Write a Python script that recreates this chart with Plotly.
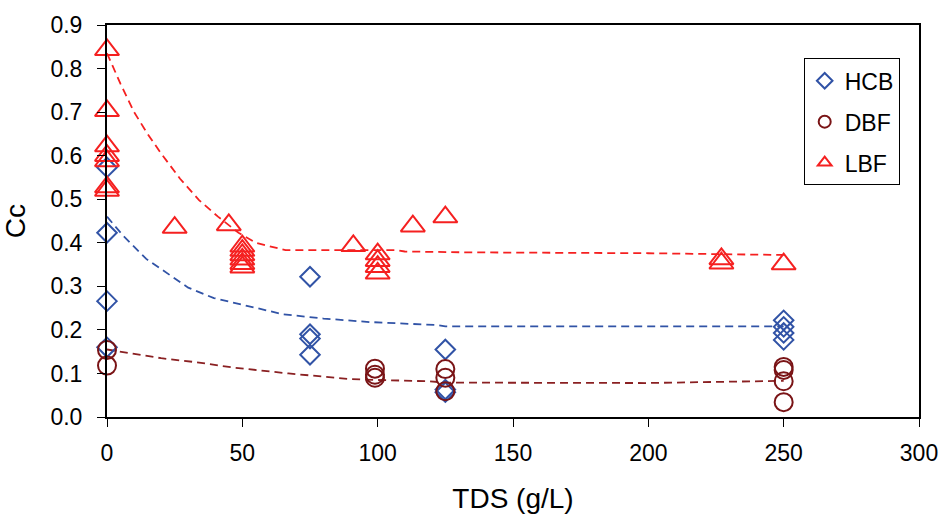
import plotly.graph_objects as go

# ---- data ----
hcb_x = [0, 0, 0, 0, 75, 75, 75, 75, 125, 125, 125, 250, 250, 250, 250]
hcb_y = [0.573, 0.423, 0.266, 0.160, 0.322, 0.190, 0.180, 0.143, 0.155, 0.063, 0.057, 0.222, 0.207, 0.193, 0.177]

dbf_x = [0, 0, 99, 99, 99, 125, 125, 125, 250, 250, 250, 250]
dbf_y = [0.154, 0.118, 0.111, 0.097, 0.090, 0.110, 0.090, 0.059, 0.115, 0.108, 0.082, 0.034]

lbf_x = [0, 0, 0, 0, 0, 0, 0, 25, 45, 50, 50, 50, 50, 50, 50, 91, 100, 100, 100, 100, 113, 125, 227, 227, 250]
lbf_y = [0.843, 0.703, 0.622, 0.600, 0.588, 0.528, 0.520, 0.435, 0.441, 0.392, 0.382, 0.372, 0.362, 0.352, 0.344,
         0.393, 0.374, 0.359, 0.345, 0.330, 0.438, 0.459, 0.363, 0.353, 0.351]

# trend (dashed) lines
hcb_fit_x = [0, 6, 14.5, 22.4, 30, 39.5, 50, 65, 80, 97, 122, 125, 250]
hcb_fit_y = [0.460, 0.416, 0.363, 0.329, 0.297, 0.273, 0.258, 0.236, 0.226, 0.218, 0.211, 0.208, 0.208]

dbf_fit_x = [0, 20, 34, 46, 67, 80, 90, 100, 119, 125, 199, 250]
dbf_fit_y = [0.155, 0.135, 0.125, 0.114, 0.100, 0.092, 0.087, 0.085, 0.082, 0.079, 0.078, 0.083]

lbf_fit_x = [0, 5, 10, 15, 20, 27, 34, 41, 48.6, 55, 60, 66, 107, 110, 133, 200, 250]
lbf_fit_y = [0.835, 0.765, 0.700, 0.650, 0.605, 0.547, 0.498, 0.460, 0.423, 0.400, 0.392, 0.383, 0.383, 0.380, 0.378, 0.376, 0.372]

x_ticks = [0, 50, 100, 150, 200, 250, 300]

BLUE = "#3153A6"
MAROON = "#7A1416"
RED = "#F52020"
FONT = "Liberation Sans, Arial, sans-serif"

fig = go.Figure()

dash = "8px,5px"
fig.add_trace(go.Scatter(x=hcb_fit_x, y=hcb_fit_y, mode="lines", line=dict(color=BLUE, width=1.8, dash=dash),
                         showlegend=False, hoverinfo="skip", cliponaxis=False))
fig.add_trace(go.Scatter(x=dbf_fit_x, y=dbf_fit_y, mode="lines", line=dict(color="#8A2022", width=1.8, dash=dash),
                         showlegend=False, hoverinfo="skip", cliponaxis=False))
fig.add_trace(go.Scatter(x=lbf_fit_x, y=lbf_fit_y, mode="lines", line=dict(color=RED, width=1.8, dash=dash),
                         showlegend=False, hoverinfo="skip", cliponaxis=False))

fig.add_trace(go.Scatter(x=hcb_x, y=hcb_y, mode="markers", name="HCB", legendgroup="a",
                         marker=dict(symbol="diamond-open", size=15, color=BLUE, line=dict(width=2, color=BLUE)),
                         cliponaxis=False))
fig.add_trace(go.Scatter(x=dbf_x, y=dbf_y, mode="markers", name="DBF", legendgroup="b",
                         marker=dict(symbol="circle-open", size=18, color=MAROON, line=dict(width=2, color=MAROON)),
                         cliponaxis=False))
fig.add_trace(go.Scatter(x=lbf_x, y=lbf_y, mode="markers", name="LBF", legendgroup="c",
                         marker=dict(symbol="triangle-up-open", size=21, color=RED, line=dict(width=2, color=RED)),
                         cliponaxis=False))

fig.update_layout(
    width=950, height=521,
    margin=dict(l=107, r=22, t=18, b=102),
    paper_bgcolor="white", plot_bgcolor="white",
    font=dict(family=FONT, size=23, color="black"),
    showlegend=True,
    legend=dict(x=0.858, y=0.915, xanchor="left", yanchor="top",
                bordercolor="black", borderwidth=1, bgcolor="white",
                font=dict(size=23), tracegroupgap=8, itemsizing="constant"),
    xaxis=dict(range=[0, 300], tickvals=x_ticks, showgrid=False, zeroline=False,
               showline=True, linecolor="black", linewidth=2, mirror=True,
               ticks="outside", ticklen=8, tickwidth=1, tickcolor="black",
               ticklabelstandoff=6,
               title=dict(text="TDS (g/L)", standoff=24)),
    yaxis=dict(range=[0, 0.9], dtick=0.1, tickformat=".1f", showgrid=False, zeroline=False,
               showline=True, linecolor="black", linewidth=2, mirror=True,
               ticks="outside", ticklen=8, tickwidth=1, tickcolor="black",
               ticklabelstandoff=10,
               title=dict(text="Cc", standoff=18)),
)

fig.write_html("out.html")
